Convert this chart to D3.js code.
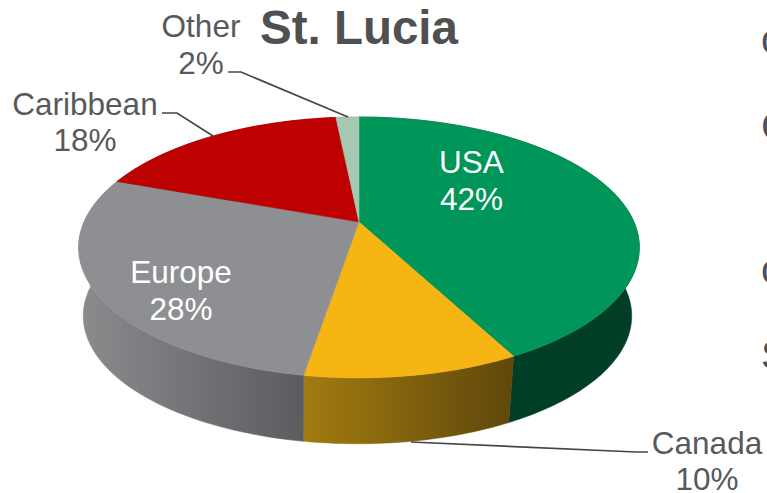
<!DOCTYPE html>
<html><head><meta charset="utf-8">
<script src="https://cdn.jsdelivr.net/npm/d3@7"></script>
<style>html,body{margin:0;padding:0;background:#fff;overflow:hidden}svg{display:block}text{font-family:"Liberation Sans",Arial,sans-serif}</style>
</head><body>
<svg id="c" width="767" height="493"></svg>
<script>
const categories = ["USA","Canada","Europe","Caribbean","Other"];
const shares = [42.3,10.3,28,17.8,1.6];
const topColors = ["#009659","#f6b513","#8e8f92","#bd0000","#a6c8b1"];
const sideLeft = ["#003f26","#a27b10","#8b8c8e","#7a0000","#6c8272"];
const sideRight = ["#003f26","#5f470b","#5b5c5f","#7a0000","#6c8272"];
const title = "St. Lucia";
const edgeLetters = ["c","C","c","S"];

const svg = d3.select("#c");
const pers=0.195;
// perspective projection of the unit disc to a rim plane
const rim = (cx,cy,a,b)=>t=>{
  const u=Math.sin(t),v=-Math.cos(t),d=1-pers*v;
  return [cx+a*u/d, cy+b*v/d];
};
const topRim = rim(359,222,275,125.5);
const lowRim = rim(357.5,291,269,123);
const arcs = d3.pie().sort(null).value(d=>d)(shares);
const line = d3.line();
const samples=(a,b)=>d3.range(0,61).map(i=>a+(b-a)*i/60);

const defs=svg.append("defs");
arcs.forEach((d,i)=>{
  const xs=samples(d.startAngle,d.endAngle).map(t=>topRim(t)[0]);
  const g=defs.append("linearGradient").attr("id","side"+i).attr("gradientUnits","userSpaceOnUse")
    .attr("x1",d3.min(xs)).attr("x2",d3.max(xs)).attr("y1",0).attr("y2",0);
  g.append("stop").attr("offset",0).attr("stop-color",sideLeft[i]);
  g.append("stop").attr("offset",1).attr("stop-color",sideRight[i]);
});
// side walls
svg.append("g").selectAll("path").data(arcs).join("path")
  .attr("d",d=>{
    const ts=samples(d.startAngle,d.endAngle);
    return line([...ts.map(topRim),...ts.slice().reverse().map(lowRim)])+"Z";
  })
  .attr("fill",(d,i)=>`url(#side${i})`)
  .attr("stroke",(d,i)=>`url(#side${i})`).attr("stroke-width",0.5);
// top faces
svg.append("g").selectAll("path").data(arcs).join("path")
  .attr("d",d=>line([[359,222],...samples(d.startAngle,d.endAngle).map(topRim)])+"Z")
  .attr("fill",(d,i)=>topColors[i])
  .attr("stroke",(d,i)=>topColors[i]).attr("stroke-width",0.5);

// leader lines
const leaders=[
  [[228,72],[241,72],[348,117]],
  [[162,113],[177,113],[213,136]],
  [[411,442],[636,452],[648,452]]
];
svg.append("g").selectAll("path").data(leaders).join("path")
  .attr("d",d=>line(d)).attr("fill","none").attr("stroke","#454648").attr("stroke-width",1.7);

// labels
const labelPos=[[471.5,173,"#fff"],[707,453.5,"#58595b"],[181,283,"#fff"],[85,114.5,"#58595b"],[201,37,"#58595b"]];
const fmt=v=>Math.round(v)+"%";
labelPos.forEach((p,i)=>{
  const t=svg.append("text").attr("text-anchor","middle").attr("font-size",31.5).attr("fill",p[2]);
  t.append("tspan").attr("x",p[0]).attr("y",p[1]).text(categories[i]);
  t.append("tspan").attr("x",p[0]).attr("y",p[1]+36.5).text(fmt(shares[i]));
});
svg.append("text").attr("x",359).attr("y",43.5).attr("text-anchor","middle")
  .attr("font-size",47.5).attr("font-weight","bold").attr("fill","#4f5052").text(title);
// clipped letters of neighbouring text at the right edge
const edgeY=[53,140,283,369];
edgeLetters.forEach((c,i)=>svg.append("text").attr("x",761).attr("y",edgeY[i])
  .attr("font-size",40).attr("fill","#4f5052").text(c));
</script>
</body></html>
